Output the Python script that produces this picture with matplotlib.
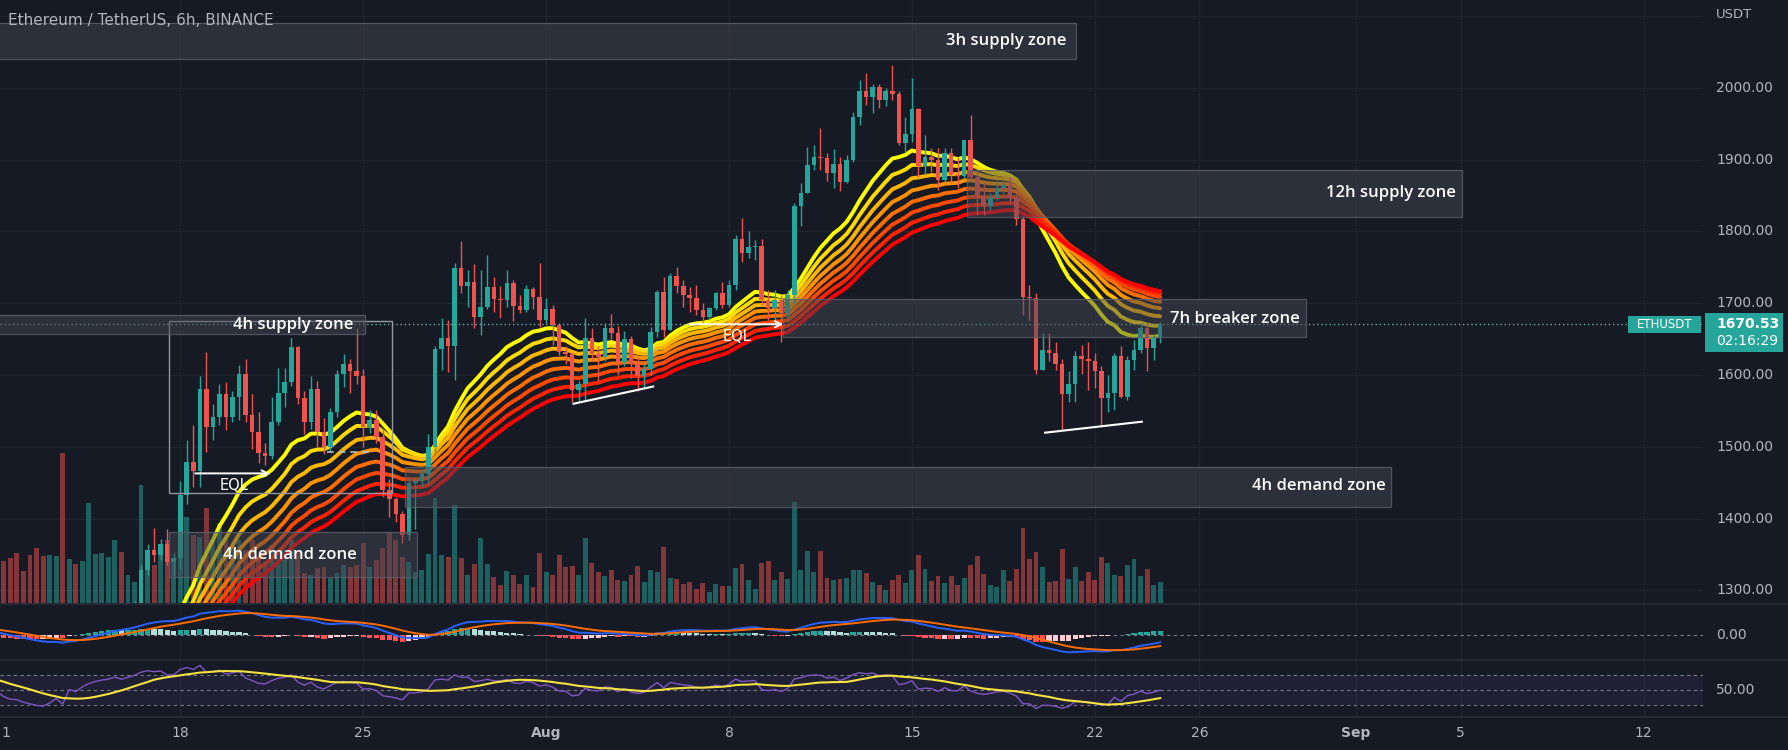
import numpy as np
import matplotlib
matplotlib.use("Agg")
import matplotlib.pyplot as plt
from matplotlib.patches import Rectangle
from matplotlib.lines import Line2D
import matplotlib.transforms as mtransforms

W, H = 1788, 750
BG = "#161a25"
UP, DN = "#26a69a", "#ef5350"
TXT = "#b2b5be"
GRID = "#20242f"

# ---------------- data (6h candles, index 0 = 11 Jul 00:00) ----------------
pre_close = [1085, 1110, 1130, 1150, 1160, 1120, 1105, 1134, 1140, 1165, 1155, 1186,
             1180, 1200, 1215, 1238, 1255, 1230, 1220, 1213, 1225, 1210, 1220, 1218,
             1205, 1190, 1175, 1168]

close = [1150, 1120, 1100, 1097, 1075, 1060, 1045, 1038, 1050, 1070,
         1020, 1112, 1095, 1135, 1170, 1192, 1210, 1220, 1245, 1232,
         1255, 1280, 1328, 1356, 1350, 1364, 1340, 1345, 1433, 1479,
         1467, 1581, 1528, 1541, 1574, 1542, 1570, 1602, 1545, 1521,
         1492, 1487, 1535, 1575, 1590, 1639, 1568, 1535, 1581, 1521,
         1500, 1549, 1601, 1616, 1605, 1598, 1528, 1537, 1514, 1440,
         1427, 1407, 1377, 1450, 1452, 1462, 1500, 1636, 1651, 1641,
         1749, 1724, 1730, 1681, 1695, 1722, 1706, 1705, 1728, 1696,
         1690, 1720, 1708, 1677, 1692, 1670, 1632, 1629, 1579, 1587,
         1651, 1629, 1625, 1665, 1659, 1618, 1650, 1616, 1598, 1608,
         1660, 1715, 1663, 1738, 1724, 1712, 1707, 1690, 1681, 1693,
         1714, 1698, 1725, 1790, 1770, 1778, 1780, 1705, 1693, 1704,
         1686, 1712, 1835, 1854, 1893, 1904, 1902, 1881, 1894, 1869,
         1900, 1959, 1995, 1987, 2001, 1983, 1995, 1991, 1923, 1936,
         1970, 1891, 1903, 1899, 1871, 1909, 1879, 1877, 1927, 1876,
         1849, 1835, 1846, 1860, 1865, 1846, 1817, 1708, 1707, 1607,
         1635, 1631, 1616, 1574, 1588, 1626, 1622, 1619, 1605, 1568,
         1575, 1626, 1570, 1621, 1635, 1665, 1637, 1651, 1670.53]

high = [1180, 1155, 1128, 1110, 1102, 1082, 1068, 1052, 1060, 1078,
        1085, 1118, 1120, 1142, 1180, 1200, 1218, 1232, 1250, 1252,
        1262, 1285, 1335, 1365, 1387, 1372, 1385, 1352, 1452, 1510,
        1531, 1598, 1632, 1560, 1588, 1590, 1578, 1614, 1622, 1574,
        1548, 1505, 1570, 1610, 1610, 1651, 1641, 1578, 1598, 1592,
        1540, 1554, 1607, 1629, 1622, 1665, 1609, 1551, 1551, 1525,
        1455, 1430, 1410, 1456, 1457, 1468, 1518, 1641, 1679, 1676,
        1756, 1786, 1746, 1754, 1746, 1767, 1737, 1724, 1746, 1733,
        1711, 1725, 1723, 1756, 1707, 1697, 1672, 1641, 1632, 1591,
        1679, 1665, 1640, 1672, 1685, 1668, 1662, 1655, 1625, 1615,
        1667, 1719, 1737, 1742, 1751, 1732, 1723, 1725, 1700, 1695,
        1716, 1730, 1732, 1795, 1818, 1800, 1788, 1790, 1718, 1718,
        1712, 1718, 1840, 1867, 1918, 1920, 1944, 1909, 1915, 1904,
        1907, 1967, 2011, 2020, 2006, 2006, 2000, 2032, 1995, 1960,
        2013, 1972, 1934, 1916, 1916, 1916, 1916, 1904, 1928, 1962,
        1886, 1867, 1853, 1872, 1872, 1876, 1853, 1821, 1725, 1714,
        1658, 1658, 1646, 1623, 1605, 1633, 1642, 1646, 1630, 1612,
        1600, 1630, 1640, 1626, 1649, 1672, 1672, 1656, 1674]

low = [1140, 1112, 1090, 1085, 1066, 1050, 1036, 1030, 1030, 1045,
       1005, 1015, 1088, 1090, 1128, 1165, 1185, 1200, 1215, 1225,
       1228, 1250, 1276, 1322, 1340, 1342, 1335, 1320, 1330, 1420,
       1444, 1444, 1493, 1510, 1530, 1524, 1535, 1538, 1535, 1497,
       1478, 1475, 1483, 1530, 1555, 1585, 1560, 1518, 1525, 1500,
       1490, 1494, 1541, 1584, 1575, 1587, 1500, 1519, 1505, 1430,
       1402, 1395, 1366, 1370, 1385, 1445, 1449, 1490, 1607, 1604,
       1593, 1714, 1695, 1665, 1656, 1692, 1688, 1680, 1695, 1675,
       1686, 1688, 1692, 1667, 1673, 1642, 1628, 1616, 1562, 1563,
       1565, 1620, 1592, 1620, 1650, 1600, 1612, 1596, 1578, 1583,
       1600, 1653, 1653, 1663, 1714, 1695, 1688, 1684, 1672, 1677,
       1691, 1693, 1695, 1718, 1758, 1763, 1760, 1698, 1677, 1672,
       1646, 1680, 1700, 1807, 1853, 1886, 1886, 1870, 1860, 1856,
       1867, 1897, 1948, 1976, 1965, 1972, 1974, 1983, 1921, 1909,
       1925, 1876, 1879, 1883, 1858, 1869, 1867, 1860, 1874, 1872,
       1823, 1823, 1830, 1844, 1853, 1839, 1809, 1684, 1677, 1602,
       1607, 1619, 1607, 1523, 1563, 1563, 1602, 1579, 1582, 1530,
       1549, 1551, 1568, 1565, 1607, 1630, 1605, 1621, 1644]

volume = [40, 42, 45, 50, 32, 48, 55, 47, 48, 47,
          150, 44, 39, 42, 100, 49, 50, 46, 63, 51,
          28, 21, 118, 45, 38, 50, 63, 43, 83, 86,
          68, 66, 95, 63, 80, 68, 56, 63, 53, 63,
          46, 40, 58, 50, 53, 63, 53, 30, 28, 35,
          36, 25, 30, 38, 36, 38, 60, 36, 43, 55,
          70, 63, 46, 41, 31, 33, 49, 105, 48, 46,
          98, 45, 28, 39, 65, 39, 26, 18, 32, 28,
          19, 28, 16, 50, 31, 28, 48, 36, 37, 28,
          65, 40, 31, 27, 33, 23, 22, 28, 37, 21,
          33, 31, 56, 25, 24, 19, 21, 14, 20, 11,
          19, 17, 17, 35, 39, 23, 14, 40, 42, 23,
          31, 24, 101, 33, 52, 31, 52, 25, 23, 24,
          25, 33, 33, 30, 21, 18, 13, 23, 28, 20,
          33, 48, 34, 22, 27, 20, 27, 18, 25, 38,
          47, 29, 18, 16, 33, 22, 34, 75, 44, 51,
          36, 21, 22, 54, 24, 36, 22, 31, 23, 46,
          40, 28, 27, 38, 44, 27, 34, 18, 21]

date_ticks = [0, 28, 56, 84, 112, 140, 168, 184, 208, 224, 252]
date_labels = ["11", "18", "25", "Aug", "8", "15", "22", "26", "Sep", "5", "12"]
price_ticks = [1300, 1400, 1500, 1600, 1700, 1800, 1900, 2000]
ema_lengths = [20, 25, 30, 35, 40, 45, 50, 55]
last_price = 1670.53

# zones: (start idx, end idx, low price, high price, label, label idx (right edge), label price)
zone_start = [-1, 148.4, 120.3, -1, 62.4, 26.3]
zone_end = [165.1, 224.2, 200.3, 56.3, 213.3, 64.2]
zone_low = [2039.7, 1820.5, 1653.0, 1657.0, 1416.6, 1319.1]
zone_high = [2090.5, 1885.6, 1705.5, 1683.6, 1472.3, 1381.8]
zone_labels = ["3h supply zone", "12h supply zone", "7h breaker zone",
               "4h supply zone", "4h demand zone", "4h demand zone"]
zone_label_x = [163.6, 223.3, 199.4, 54.5, 212.5, 55.0]
zone_label_y = [2065, 1854, 1678, 1670, 1446, 1349]

# ---------------- indicators ----------------
n_pre = len(pre_close)
c_all = np.array(pre_close + close, dtype=float)
o = np.array([pre_close[-1]] + close[:-1], dtype=float)
c = np.array(close, dtype=float)
hi = np.array(high, dtype=float)
lo = np.array(low, dtype=float)
vol = np.array(volume, dtype=float)
idx = np.arange(len(c))


def ema(x, n):
    a = 2.0 / (n + 1)
    out = np.empty_like(x)
    out[0] = x[0]
    for k in range(1, len(x)):
        out[k] = a * x[k] + (1 - a) * out[k - 1]
    return out


ribbons = [ema(c_all, L)[n_pre:] for L in ema_lengths]
macd_all = ema(c_all, 12) - ema(c_all, 26)
sig_all = ema(macd_all, 9)
macd = macd_all[n_pre:]
signal = sig_all[n_pre:]
hist = macd - signal

d = np.diff(c_all)
g = np.where(d > 0, d, 0.0)
l_ = np.where(d < 0, -d, 0.0)
rsi_all = np.full(len(c_all), np.nan)
ag, al = g[:14].mean(), l_[:14].mean()
rsi_all[14] = 100 - 100 / (1 + ag / al)
for k in range(14, len(d)):
    ag = (ag * 13 + g[k]) / 14
    al = (al * 13 + l_[k]) / 14
    rsi_all[k + 1] = 100 - 100 / (1 + ag / al)
rsi_ma_all = np.full(len(c_all), np.nan)
for k in range(27, len(c_all)):
    rsi_ma_all[k] = np.nanmean(rsi_all[k - 13:k + 1])
rsi = rsi_all[n_pre:]
rsi_ma = rsi_ma_all[n_pre:]

# ---------------- figure ----------------
fig = plt.figure(figsize=(W / 100, H / 100), dpi=100, facecolor=BG)


def rect_px(x0, y0, x1, y1):
    return [x0 / W, 1 - y1 / H, (x1 - x0) / W, (y1 - y0) / H]


PR = 1703
ax_vol = fig.add_axes(rect_px(0, 0, PR, 603))
ax = fig.add_axes(rect_px(0, 0, PR, 603))
ax_macd = fig.add_axes(rect_px(0, 604, PR, 659))
ax_rsi = fig.add_axes(rect_px(0, 660, PR, 716))
ax_vol.set_zorder(1)
ax.set_zorder(2)

XL = (0.41, 261.1)
for a in (ax_vol, ax, ax_macd, ax_rsi):
    a.set_xlim(*XL)
    a.set_facecolor(BG)
    for s in a.spines.values():
        s.set_visible(False)
    a.set_xticks([])
    a.set_yticks([])
ax.patch.set_alpha(0)

ax.set_ylim(1282.5, 2122.3)
ax_vol.set_ylim(0, vol.max() * 603 / 150)

# grid
for a in (ax_vol, ax_macd, ax_rsi):
    for t in date_ticks:
        a.axvline(t, color=GRID, lw=1, zorder=0)
tr_grid = mtransforms.blended_transform_factory(ax_vol.transAxes, ax.transData)
for p in price_ticks + [2100]:
    ax_vol.plot([0, 1], [p, p], transform=tr_grid, color=GRID, lw=1, zorder=0)

# volume
up = c >= o
vcol = np.where(up, UP, DN)
ax_vol.bar(idx, vol, width=0.75, color=vcol, alpha=0.5, zorder=1, linewidth=0)

# ribbon
n_r = len(ema_lengths)
for k, e in enumerate(ribbons):
    col = (1.0, 1.0 - k / (n_r - 1), 0.0)
    ax.plot(idx, e, color=col, lw=2.8, zorder=2, solid_capstyle="round")

# candles
ccol = np.where(up, UP, DN)
ax.vlines(idx, lo, hi, colors=ccol, lw=1, zorder=3)
body_lo = np.minimum(o, c)
body_h = np.maximum(np.abs(c - o), 1.2)
ax.bar(idx, body_h, bottom=body_lo, width=0.7, color=ccol, zorder=3.1, linewidth=0)

# current price line
ax.axhline(last_price, color="#6fa9a5", ls=(0, (1, 2)), lw=1, zorder=4)

# drawings
ax.add_patch(Rectangle((26.3, 1436), 60.4 - 26.3, 1675.6 - 1436, fill=False,
                       edgecolor="#9598a1", lw=1, zorder=4.5))
ax.annotate("", xy=(41.7, 1463), xytext=(30.3, 1463),
            arrowprops=dict(arrowstyle="->", color="white", lw=1.4, shrinkA=0, shrinkB=0,
                            mutation_scale=11), zorder=4.5)
ax.text(36.2, 1446, "EQL", color="white", fontsize=10.5, ha="center", va="center", zorder=6)
ax.annotate("", xy=(120.3, 1670.7), xytext=(106.0, 1670.7),
            arrowprops=dict(arrowstyle="->", color="white", lw=1.4, shrinkA=0, shrinkB=0,
                            mutation_scale=11), zorder=4.5)
ax.text(113.2, 1653, "EQL", color="white", fontsize=10.5, ha="center", va="center", zorder=6)
ax.plot([50.4, 57.6], [1492.3, 1492.3], color="#a9c4c2", lw=1.2, ls=(0, (4, 3)), zorder=4.5)
ax.plot([88.2, 100.4], [1560, 1584], color="white", lw=1.5, zorder=4.5)
ax.plot([160.4, 175.2], [1519.7, 1535.0], color="white", lw=1.5, zorder=4.5)

# zones
for s, e, zl, zh, lab, lx, ly in zip(zone_start, zone_end, zone_low, zone_high,
                                     zone_labels, zone_label_x, zone_label_y):
    ax.add_patch(Rectangle((s, zl), e - s, zh - zl, facecolor="#464955", alpha=0.48,
                           edgecolor="none", zorder=5))
    ax.add_patch(Rectangle((s, zl), e - s, zh - zl, fill=False, edgecolor="#5d606b",
                           lw=0.9, alpha=0.8, zorder=5))
    ax.text(lx, ly, lab, color="white", fontsize=12, fontweight="semibold",
            family=["Open Sans", "DejaVu Sans"], ha="right", va="center", zorder=6)

# ETHUSDT tag
ax.add_patch(Rectangle((249.6, 1658.5), 260.8 - 249.6, 1682.2 - 1658.5, facecolor=UP,
                       edgecolor="none", zorder=7, clip_on=False))
ax.text(255.2, 1670.3, "ETHUSDT", color="white", fontsize=8.5, ha="center", va="center",
        zorder=8, clip_on=False)

# MACD
hcol = []
for k in range(len(hist)):
    prev = hist[k - 1] if k > 0 else hist[k]
    if hist[k] >= 0:
        hcol.append("#26a69a" if hist[k] > prev else "#b2dfdb")
    else:
        hcol.append("#ff5252" if hist[k] < prev else "#ffcdd2")
ax_macd.bar(idx, hist, width=0.8, color=hcol, linewidth=0, zorder=2)
ax_macd.axhline(0, color="#787b86", lw=0.8, ls=(0, (3, 3)), zorder=1)
ax_macd.plot(idx, macd, color="#2962ff", lw=1.4, zorder=3)
ax_macd.plot(idx, signal, color="#ff6d00", lw=1.4, zorder=3)
mlo = min(macd.min(), signal.min(), hist.min())
mhi = max(macd.max(), signal.max(), hist.max())
mpad = 0.16 * (mhi - mlo)
ax_macd.set_ylim(mlo - mpad, mhi + mpad)

# RSI
ax_rsi.axhspan(30, 70, color="#7e57c2", alpha=0.1, lw=0, zorder=0)
for lvl in (30, 50, 70):
    ax_rsi.axhline(lvl, color="#787b86", lw=0.8, ls=(0, (3, 3)), zorder=1)
ax_rsi.plot(idx, rsi, color="#7e57c2", lw=1, zorder=2)
ax_rsi.plot(idx, rsi_ma, color="#f5e43f", lw=1.5, zorder=3)
ax_rsi.set_ylim(14.4, 90.4)

# separators
for yy in (603.5, 659.5, 716.5):
    fig.add_artist(Line2D([0, 1], [1 - yy / H] * 2, transform=fig.transFigure,
                          color="#2a2e39", lw=1.2))

# price scale labels
tr_p = mtransforms.blended_transform_factory(fig.transFigure, ax.transData)
for p in price_ticks:
    ax.text(1716 / W, p, f"{p:.2f}", transform=tr_p, color=TXT, fontsize=10,
            ha="left", va="center", clip_on=False)
fig.text(1716 / W, 1 - 15 / H, "USDT", color=TXT, fontsize=9.5, ha="left", va="center")
tr_m = mtransforms.blended_transform_factory(fig.transFigure, ax_macd.transData)
ax_macd.text(1716 / W, 0, "0.00", transform=tr_m, color=TXT, fontsize=10, ha="left",
             va="center", clip_on=False)
tr_r = mtransforms.blended_transform_factory(fig.transFigure, ax_rsi.transData)
ax_rsi.text(1716 / W, 50, "50.00", transform=tr_r, color=TXT, fontsize=10, ha="left",
            va="center", clip_on=False)

# last price tag on axis
fig.add_artist(Rectangle((1705 / W, 1 - 352 / H), 78 / W, 39 / H, transform=fig.transFigure,
                         facecolor=UP, edgecolor="none"))
fig.text(1716 / W, 1 - 323.5 / H, f"{last_price:.2f}", color="white", fontsize=10,
         fontweight="bold", ha="left", va="center")
fig.text(1716 / W, 1 - 341 / H, "02:16:29", color="white", fontsize=10, ha="left", va="center")

# date labels (the first one, "11", is cut by the left edge so only its last digit shows)
tr_d = mtransforms.blended_transform_factory(ax_rsi.transData, fig.transFigure)
for t, lab in zip(date_ticks, date_labels):
    bold = lab in ("Aug", "Sep")
    if t == 0:
        fig.text(1.5 / W, 1 - 733 / H, lab[-1], color=TXT, fontsize=10, ha="left", va="center")
        continue
    ax_rsi.text(t, 1 - 733 / H, lab, transform=tr_d, color=TXT, fontsize=10,
                fontweight="bold" if bold else "normal", ha="center", va="center",
                clip_on=False)

# title
fig.text(8 / W, 1 - 20.5 / H, "Ethereum / TetherUS, 6h, BINANCE", color=TXT, fontsize=11,
         ha="left", va="center")

fig.savefig("out.png", dpi=100, facecolor=BG)
